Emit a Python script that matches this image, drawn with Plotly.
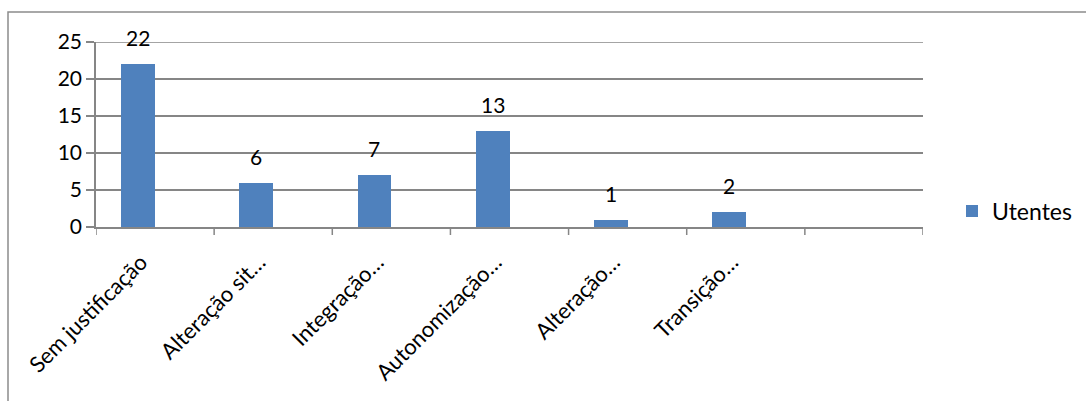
import plotly.graph_objects as go

# Motivos de saída e número de utentes por motivo
categorias = [
    "Sem justificação",
    "Alteração sit…",
    "Integração…",
    "Autonomização…",
    "Alteração…",
    "Transição…",
    " ",
]
utentes = [22, 6, 7, 13, 1, 2, None]
serie_nome = "Utentes"
y_ticks = [0, 5, 10, 15, 20, 25]

FONT = "Lato, 'Open Sans', sans-serif"
AZUL = "#4F81BD"
CINZA = "#868686"
NUM_SIZE = 21
TXT_SIZE = 23
TICK_SIZE = 22

# bar sits in the left half of each category slot (second, empty series slot on the right)
largura = 1 / 3.5
n = len(categorias)

fig = go.Figure()
fig.add_trace(go.Bar(
    x=list(range(n)),
    y=utentes,
    name=serie_nome,
    marker=dict(color=AZUL, line=dict(width=0)),
    width=largura,
    offset=-largura,
))

# data labels above each bar
for i, v in enumerate(utentes):
    if v is None:
        continue
    fig.add_annotation(
        x=i - largura / 2, y=v, text=str(v),
        showarrow=False, yanchor="bottom", yshift=12,
        font=dict(family=FONT, size=NUM_SIZE, color="#000000"),
    )

# outer chart border
fig.add_shape(
    type="rect", xref="paper", yref="paper",
    x0=-88 / 827, x1=1.3, y0=-1.0, y1=1 + 30 / 185,
    line=dict(color="#8C8C8C", width=1.5), fillcolor="rgba(0,0,0,0)", layer="below",
)

# top gridline at the end of the value range
fig.add_shape(
    type="line", xref="x domain", yref="y",
    x0=0, x1=1, y0=y_ticks[-1], y1=y_ticks[-1],
    line=dict(color=CINZA, width=1.5), layer="below",
)

# tick marks on the category boundaries of the horizontal axis
for b in range(n + 1):
    fig.add_shape(
        type="line", xref="x", yref="y domain",
        x0=b - 0.5, x1=b - 0.5, y0=0, y1=-8 / 185,
        line=dict(color=CINZA, width=1.5),
    )

fig.update_layout(
    width=1086, height=401,
    margin=dict(l=96, r=163, t=42, b=174, autoexpand=False),
    paper_bgcolor="white", plot_bgcolor="white",
    font=dict(family=FONT, size=TXT_SIZE, color="#000000"),
    showlegend=True,
    legend=dict(
        xref="container", yref="container",
        x=952 / 1086, y=(401 - 211) / 401, xanchor="left", yanchor="middle",
        font=dict(family=FONT, size=TXT_SIZE, color="#000000"),
        itemwidth=30, bgcolor="rgba(0,0,0,0)",
    ),
    bargap=0,
    xaxis=dict(
        type="linear",
        range=[-0.5, n - 0.5],
        tickmode="array",
        tickvals=list(range(n)),
        ticktext=categorias,
        tickangle=-45,
        automargin=False,
        showgrid=False, zeroline=False,
        showline=True, linecolor=CINZA, linewidth=1.5,
        ticks="",
        ticklabelshift=-14,
        ticklabelstandoff=12,
        tickfont=dict(family=FONT, size=TICK_SIZE, color="#000000"),
    ),
    yaxis=dict(
        range=[0, 25],
        tickvals=y_ticks,
        automargin=False,
        showgrid=True, gridcolor=CINZA, gridwidth=1.5,
        zeroline=False,
        showline=True, linecolor=CINZA, linewidth=1.5,
        ticks="outside", ticklen=8, tickcolor=CINZA, tickwidth=1.5,
        tickfont=dict(family=FONT, size=NUM_SIZE, color="#000000"),
    ),
)

fig.write_html("out.html")
